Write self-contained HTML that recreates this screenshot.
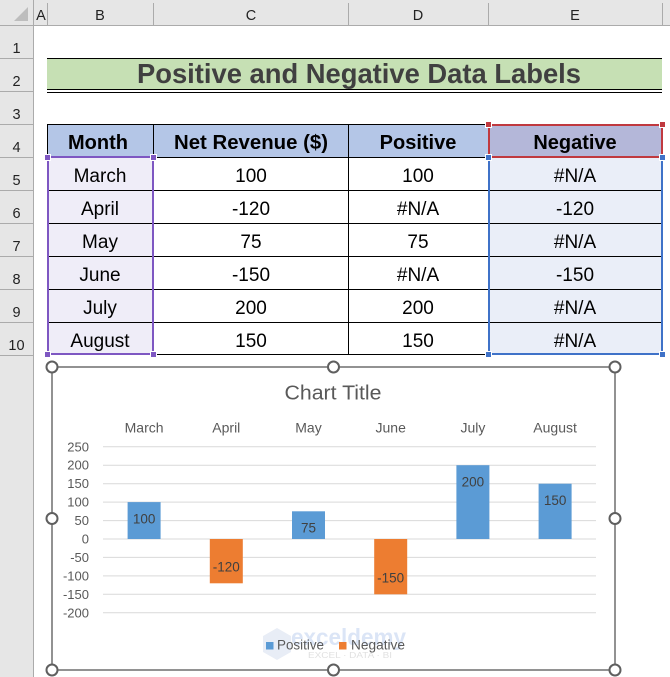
<!DOCTYPE html>
<html><head><meta charset="utf-8"><style>
html,body{margin:0;padding:0;background:#fff;}
svg{display:block;}
text{font-family:"Liberation Sans",Arial,sans-serif;}
</style></head><body>
<svg width="670" height="677" viewBox="0 0 670 677" xmlns="http://www.w3.org/2000/svg">
<!-- headers -->
<rect x="0" y="0" width="670" height="25" fill="#E6E6E6"/>
<rect x="0" y="0" width="33" height="677" fill="#E6E6E6"/>
<polygon points="14,21 28,21 28,7" fill="#BDBDBD"/>
<g stroke="#ABABAB" stroke-width="1" shape-rendering="crispEdges">
<line x1="0" y1="25.5" x2="670" y2="25.5"/>
<line x1="33.5" y1="0" x2="33.5" y2="677"/>
<line x1="47.5" y1="3" x2="47.5" y2="25"/>
<line x1="153.5" y1="3" x2="153.5" y2="25"/>
<line x1="348.5" y1="3" x2="348.5" y2="25"/>
<line x1="488.5" y1="3" x2="488.5" y2="25"/>
<line x1="662.5" y1="3" x2="662.5" y2="25"/>
<line x1="0" y1="58.5" x2="33" y2="58.5"/>
<line x1="0" y1="91.5" x2="33" y2="91.5"/>
<line x1="0" y1="124.5" x2="33" y2="124.5"/>
<line x1="0" y1="157.5" x2="33" y2="157.5"/>
<line x1="0" y1="190.5" x2="33" y2="190.5"/>
<line x1="0" y1="223.5" x2="33" y2="223.5"/>
<line x1="0" y1="256.5" x2="33" y2="256.5"/>
<line x1="0" y1="289.5" x2="33" y2="289.5"/>
<line x1="0" y1="322.5" x2="33" y2="322.5"/>
<line x1="0" y1="355.5" x2="33" y2="355.5"/>
</g>
<g font-size="14.5" fill="#222" text-anchor="middle">
<text x="41" y="20">A</text>
<text x="100" y="20">B</text>
<text x="251" y="20">C</text>
<text x="418" y="20">D</text>
<text x="575" y="20">E</text>
<text x="16.5" y="53">1</text>
<text x="16.5" y="86">2</text>
<text x="16.5" y="119">3</text>
<text x="16.5" y="152">4</text>
<text x="16.5" y="185">5</text>
<text x="16.5" y="218">6</text>
<text x="16.5" y="251">7</text>
<text x="16.5" y="284">8</text>
<text x="16.5" y="317">9</text>
<text x="16.5" y="350">10</text>
</g>

<!-- title row -->
<rect x="47" y="58" width="615" height="31" fill="#C6E0B4"/>
<g stroke="#000" stroke-width="1" shape-rendering="crispEdges">
<line x1="47" y1="58.5" x2="662" y2="58.5"/>
<line x1="47" y1="89.5" x2="662" y2="89.5"/>
<line x1="47" y1="92.5" x2="662" y2="92.5"/>
</g>
<text x="359" y="83" font-size="27.4" font-weight="bold" fill="#404040" text-anchor="middle" textLength="444" lengthAdjust="spacingAndGlyphs">Positive and Negative Data Labels</text>

<!-- table -->
<rect x="47" y="124" width="441" height="33" fill="#B4C6E7"/>
<rect x="488" y="124" width="174" height="33" fill="#B4B7D9"/>
<rect x="47" y="157" width="106" height="198" fill="#EFEDF8"/>
<rect x="488" y="157" width="174" height="198" fill="#EAEEF8"/>
<g stroke="#000" stroke-width="1" shape-rendering="crispEdges">
<rect x="47.5" y="124.5" width="614" height="230" fill="none"/>
<line x1="47" y1="157.5" x2="662" y2="157.5"/>
<line x1="47" y1="190.5" x2="662" y2="190.5"/>
<line x1="47" y1="223.5" x2="662" y2="223.5"/>
<line x1="47" y1="256.5" x2="662" y2="256.5"/>
<line x1="47" y1="289.5" x2="662" y2="289.5"/>
<line x1="47" y1="322.5" x2="662" y2="322.5"/>
<line x1="153.5" y1="124" x2="153.5" y2="355"/>
<line x1="348.5" y1="124" x2="348.5" y2="355"/>
<line x1="488.5" y1="124" x2="488.5" y2="355"/>
</g>
<g font-size="20" font-weight="bold" fill="#000" text-anchor="middle">
<text x="98" y="149">Month</text>
<text x="251" y="149" textLength="154" lengthAdjust="spacingAndGlyphs">Net Revenue ($)</text>
<text x="418" y="149">Positive</text>
<text x="575" y="149">Negative</text>
</g>
<g font-size="19" fill="#000" text-anchor="middle">
<text x="100" y="182">March</text><text x="251" y="182">100</text><text x="418" y="182">100</text><text x="575" y="182">#N/A</text>
<text x="100" y="215">April</text><text x="251" y="215">-120</text><text x="418" y="215">#N/A</text><text x="575" y="215">-120</text>
<text x="100" y="248">May</text><text x="251" y="248">75</text><text x="418" y="248">75</text><text x="575" y="248">#N/A</text>
<text x="100" y="281">June</text><text x="251" y="281">-150</text><text x="418" y="281">#N/A</text><text x="575" y="281">-150</text>
<text x="100" y="314">July</text><text x="251" y="314">200</text><text x="418" y="314">200</text><text x="575" y="314">#N/A</text>
<text x="100" y="347">August</text><text x="251" y="347">150</text><text x="418" y="347">150</text><text x="575" y="347">#N/A</text>
</g>
<!-- selection ranges -->
<rect x="48" y="157" width="105" height="197" fill="none" stroke="#7E57C2" stroke-width="2"/>
<rect x="489" y="157" width="173" height="197" fill="none" stroke="#3F72C8" stroke-width="2"/>
<rect x="489" y="125" width="173" height="32" fill="none" stroke="#C0393F" stroke-width="2"/>
<g fill="#7E57C2" stroke="#fff" stroke-width="1">
<rect x="44.5" y="154.5" width="6" height="6"/><rect x="150.5" y="154.5" width="6" height="6"/>
<rect x="44.5" y="351.5" width="6" height="6"/><rect x="150.5" y="351.5" width="6" height="6"/>
</g>
<g fill="#3F72C8" stroke="#fff" stroke-width="1">
<rect x="485.5" y="154.5" width="6" height="6"/><rect x="659.5" y="154.5" width="6" height="6"/>
<rect x="485.5" y="351.5" width="6" height="6"/><rect x="659.5" y="351.5" width="6" height="6"/>
</g>
<g fill="#C0393F" stroke="#fff" stroke-width="1">
<rect x="485.5" y="121.5" width="6" height="6"/><rect x="659.5" y="121.5" width="6" height="6"/>
</g>

<!-- chart -->
<rect x="52" y="367" width="563" height="303" fill="#fff" stroke="#6E6E6E" stroke-width="1.5"/>
<text x="333" y="399.3" font-size="20" fill="#595959" text-anchor="middle" textLength="97" lengthAdjust="spacingAndGlyphs">Chart Title</text>
<g font-size="14" fill="#595959" text-anchor="middle">
<text x="144.1" y="432.3">March</text>
<text x="226.3" y="432.3">April</text>
<text x="308.5" y="432.3">May</text>
<text x="390.7" y="432.3">June</text>
<text x="472.9" y="432.3">July</text>
<text x="555.1" y="432.3">August</text>
</g>
<g stroke="#D9D9D9" stroke-width="1">
<line x1="103" y1="446.8" x2="596" y2="446.8"/>
<line x1="103" y1="465.2" x2="596" y2="465.2"/>
<line x1="103" y1="483.7" x2="596" y2="483.7"/>
<line x1="103" y1="502.1" x2="596" y2="502.1"/>
<line x1="103" y1="520.6" x2="596" y2="520.6"/>
<line x1="103" y1="539" x2="596" y2="539"/>
<line x1="103" y1="557.4" x2="596" y2="557.4"/>
<line x1="103" y1="575.9" x2="596" y2="575.9"/>
<line x1="103" y1="594.3" x2="596" y2="594.3"/>
<line x1="103" y1="612.8" x2="596" y2="612.8"/>
</g>
<g font-size="13" fill="#595959" text-anchor="end">
<text x="89" y="451.3">250</text>
<text x="89" y="469.7">200</text>
<text x="89" y="488.2">150</text>
<text x="89" y="506.6">100</text>
<text x="89" y="525.1">50</text>
<text x="89" y="543.5">0</text>
<text x="89" y="561.9">-50</text>
<text x="89" y="580.4">-100</text>
<text x="89" y="598.8">-150</text>
<text x="89" y="617.3">-200</text>
</g>
<!-- watermark -->
<g opacity="0.55">
<polygon points="277,628 291,636 291,652 277,660 263,652 263,636" fill="#D6DFEF"/>
<text x="291" y="645" font-size="23" font-weight="bold" fill="#BFD0F0" textLength="115" lengthAdjust="spacingAndGlyphs">exceldemy</text>
<text x="308" y="658" font-size="8" fill="#C8C8C8" textLength="84" lengthAdjust="spacingAndGlyphs">EXCEL · DATA · BI</text>
</g>
<!-- bars -->
<rect x="127.6" y="502.1" width="33" height="36.9" fill="#5B9BD5"/>
<rect x="209.8" y="539" width="33" height="44.3" fill="#ED7D31"/>
<rect x="292" y="511.3" width="33" height="27.7" fill="#5B9BD5"/>
<rect x="374.2" y="539" width="33" height="55.3" fill="#ED7D31"/>
<rect x="456.4" y="465.2" width="33" height="73.8" fill="#5B9BD5"/>
<rect x="538.6" y="483.7" width="33" height="55.3" fill="#5B9BD5"/>
<g font-size="13.5" fill="#404040" text-anchor="middle">
<text x="144.1" y="523.5">100</text>
<text x="226.3" y="571.7">-120</text>
<text x="308.5" y="532.6">75</text>
<text x="390.7" y="582.7">-150</text>
<text x="472.9" y="486.7">200</text>
<text x="555.1" y="505.2">150</text>
</g>
<!-- legend -->
<rect x="266" y="642" width="7.5" height="7.5" fill="#5B9BD5"/>
<text x="277" y="649.3" font-size="13.5" fill="#595959" textLength="47" lengthAdjust="spacingAndGlyphs">Positive</text>
<rect x="339" y="642" width="7.5" height="7.5" fill="#ED7D31"/>
<text x="351" y="649.3" font-size="13.5" fill="#595959" textLength="54" lengthAdjust="spacingAndGlyphs">Negative</text>
<!-- handles -->
<g fill="#fff" stroke="#5F5F5F" stroke-width="2">
<circle cx="52" cy="367" r="5.5"/><circle cx="333.5" cy="367" r="5.5"/><circle cx="615" cy="367" r="5.5"/>
<circle cx="52" cy="518.5" r="5.5"/><circle cx="615" cy="518.5" r="5.5"/>
<circle cx="52" cy="670" r="5.5"/><circle cx="333.5" cy="670" r="5.5"/><circle cx="615" cy="670" r="5.5"/>
</g>
</svg>
</body></html>
